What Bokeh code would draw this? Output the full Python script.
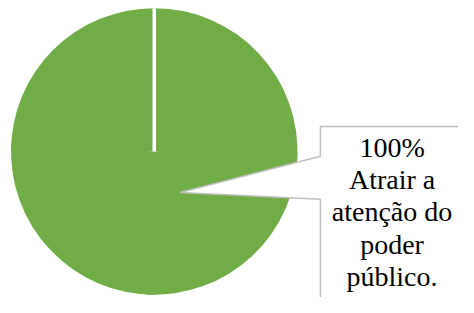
import math
from bokeh.plotting import figure
from bokeh.models import Range1d, ColumnDataSource
from bokeh.core.properties import value
from bokeh.embed import file_html
from bokeh.resources import INLINE

# ---- data ----
categories = ["Atrair a atenção do poder público."]
percents = [100]
label_lines = ["100%", "Atrair a", "atenção do", "poder", "público."]

# ---- layout: reference pixel space scaled by S, y flipped ----
W_FIG, H_FIG = 458, 297
S = 0.955


def X(x):
    return x * S


def Y(y):
    return H_FIG - y * S


cx, cy, R = X(161), Y(158), 150 * S

p = figure(width=W_FIG, height=H_FIG, output_backend="svg", toolbar_location=None,
           x_range=Range1d(0, W_FIG), y_range=Range1d(0, H_FIG), min_border=0)
p.axis.visible = False
p.grid.visible = False
p.outline_line_color = None
p.background_fill_color = "white"
p.border_fill_color = "white"

# pie slices from values (split into <= 90 degree pieces, slightly overlapped)
total = sum(percents)
ws, we, wc = [], [], []
bx0, by0, bx1, by1 = [], [], [], []
a = math.pi / 2
for cat, v in zip(categories, percents):
    span = 2 * math.pi * v / total
    n = max(1, math.ceil(span / (math.pi / 2)))
    for k in range(n):
        s0 = a - span * k / n
        s1 = a - span * (k + 1) / n - (0.06 if k < n - 1 else 0.0)
        ws.append(s0)
        we.append(s1)
        wc.append(cat)
    bx0.append(cx)
    by0.append(cy)
    bx1.append(cx + R * math.cos(a))
    by1.append(cy + R * math.sin(a))
    a -= span

src = ColumnDataSource(dict(x=[cx] * len(ws), y=[cy] * len(ws), start=ws, end=we, cat=wc))
p.wedge(x="x", y="y", radius=R, start_angle="start", end_angle="end",
        direction="clock", fill_color="#70AD47", line_color=None, source=src)
p.segment(x0=bx0, y0=by0, x1=bx1, y1=by1, line_color="white", line_width=3.5)

# callout box with pointer
bx, by = 335, 132
tip = (188, 201)
px = [bx, 490, 490, bx, bx, tip[0], bx]
py = [by, by, 330, 330, 208, tip[1], 163]
p.patch([X(x) for x in px], [Y(y) for y in py], fill_color="white",
        line_color="#BFBFBF", line_width=1.5)

# label text (baseline correction for svg text placement)
base0, step = 166, 34
corr = 12
ys = [Y(base0 + i * step) + corr for i in range(len(label_lines))]
p.text(x=[X(410)] * len(label_lines), y=ys, text=label_lines,
       text_font=value("Liberation Serif"), text_font_size="28px",
       text_align="center", text_baseline="alphabetic", text_color="black")

open("out.html", "w").write(file_html(p, INLINE))
